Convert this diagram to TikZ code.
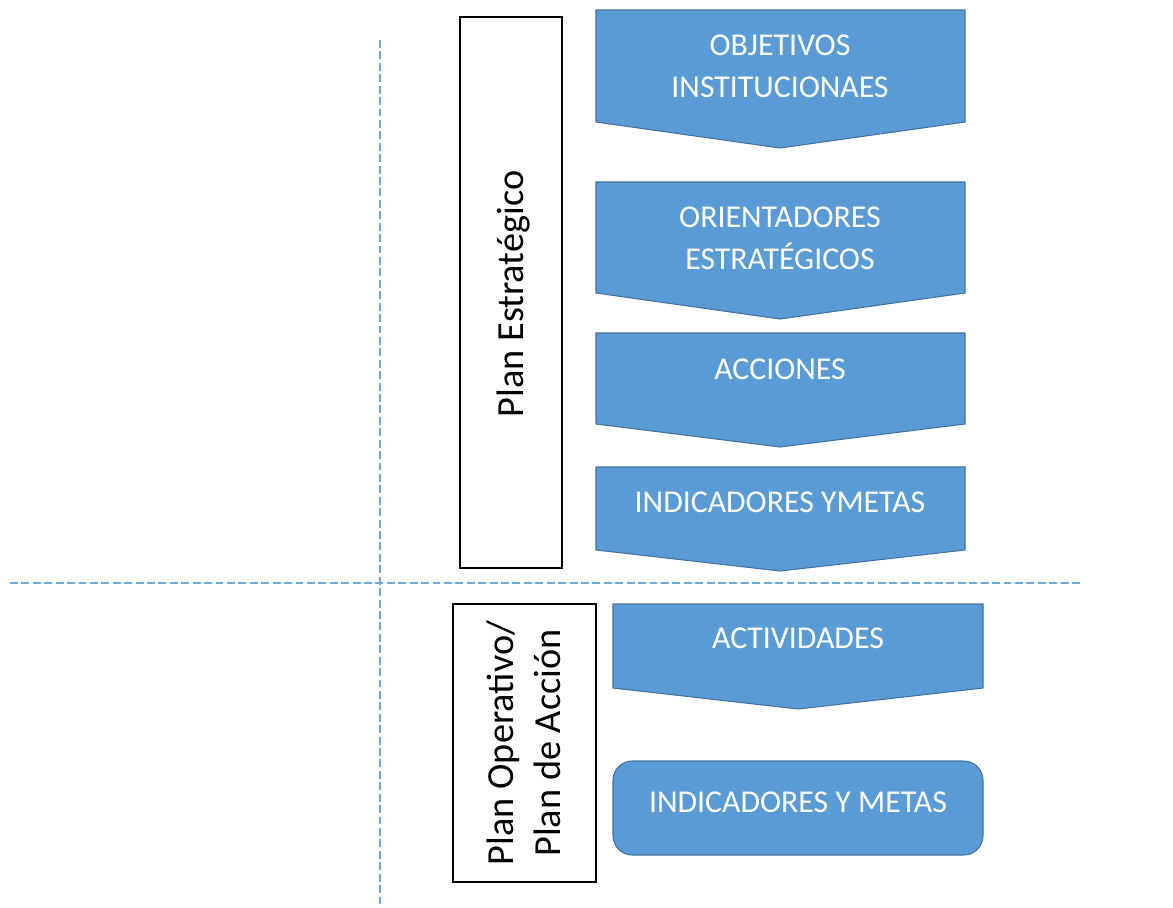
\documentclass[tikz,border=0pt]{standalone}
\usepackage{fontspec}
\setmainfont{Carlito}
\definecolor{boxblue}{HTML}{5B9BD5}
\definecolor{boxedge}{HTML}{41719C}
\definecolor{guide}{HTML}{6FA8DC}
\tikzset{
  stage/.style={fill=boxblue, draw=boxedge, line width=0.6pt},
  stagetext/.style={text=white, align=center, font=\fontsize{18.1}{24}\selectfont},
  planbox/.style={draw=black, line width=0.9pt},
  plantext/.style={rotate=90, align=center, font=\fontsize{21.8}{27}\selectfont},
  guideline/.style={draw=guide, line width=0.8pt, dash pattern=on 4.5pt off 2pt}
}
\begin{document}
\begin{tikzpicture}[x=0.02cm, y=-0.02cm]
      \useasboundingbox (0,0) rectangle (1173,907);
      % dashed separators
      \coordinate (vtop) at (380,40);
      \coordinate (vbot) at (380,905);
      \coordinate (hleft) at (10,583);
      \coordinate (hright) at (1082,583);
      \draw[guideline] (vtop) -- (vbot);
      \draw[guideline] (hleft) -- (hright);
      % plan boxes
      \draw[planbox] (460,17) rectangle (562,568);
      \node[plantext] (estr) at (513,294) {Plan Estratégico};
      \draw[planbox] (453,604) rectangle (596,882);
      \node[plantext] (oper) at (524,743) {Plan Operativo/\\Plan de Acción};
      % stages
      \path[stage] (596,10) -- (965,10) -- (965,122) -- (780,148) -- (596,122) -- cycle;
      \path[stage] (596,182) -- (965,182) -- (965,293) -- (780,319) -- (596,293) -- cycle;
      \path[stage] (596,333) -- (965,333) -- (965,424) -- (780,447) -- (596,424) -- cycle;
      \path[stage] (596,467) -- (965,467) -- (965,550) -- (780,571) -- (596,550) -- cycle;
      \path[stage] (613,604) -- (983,604) -- (983,688) -- (798,709) -- (613,688) -- cycle;
      \path[stage, rounded corners=11pt] (613,761) rectangle (983,855);
      \node[stagetext] (obj) at (780,66) {OBJETIVOS\\INSTITUCIONAES};
      \node[stagetext] (ori) at (780,238) {ORIENTADORES\\ESTRATÉGICOS};
      \node[stagetext] (acc) at (780,369) {ACCIONES};
      \node[stagetext] (ind) at (780,502) {INDICADORES YMETAS};
      \node[stagetext] (act) at (798,638) {ACTIVIDADES};
      \node[stagetext] (met) at (798,802) {INDICADORES Y METAS};
    \end{tikzpicture}
\end{document}
